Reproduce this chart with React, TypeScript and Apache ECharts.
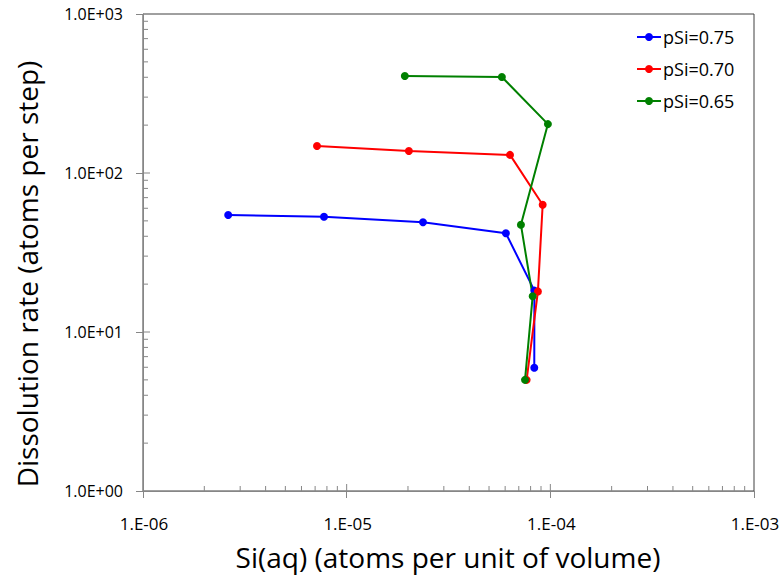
import React, { useEffect, useRef } from "react";
import * as echarts from "echarts";

const seriesNames = ["pSi=0.75", "pSi=0.70", "pSi=0.65"];
const seriesColors = ["#0000FF", "#FF0000", "#008000"];

const blueX = [2.62e-6, 7.74e-6, 2.37e-5, 6.05e-5, 8.35e-5, 8.34e-5];
const blueY = [54.4, 53.1, 49.0, 41.8, 18.2, 5.96];
const redX = [7.15e-6, 2.02e-5, 6.34e-5, 9.17e-5, 8.69e-5, 7.65e-5];
const redY = [148, 137.5, 130, 63.2, 18.0, 5.0];
const greenX = [1.93e-5, 5.78e-5, 9.73e-5, 7.17e-5, 8.19e-5, 7.51e-5];
const greenY = [407, 402, 203, 47.3, 16.8, 5.0];

const xTickValues = [1e-6, 1e-5, 1e-4, 1e-3];
const xTickLabels = ["1.E-06", "1.E-05", "1.E-04", "1.E-03"];
const yTickValues = [1, 10, 100, 1000];
const yTickLabels = ["1.0E+00", "1.0E+01", "1.0E+02", "1.0E+03"];

const xDecades = [1e-6, 1e-5, 1e-4];
const yDecades = [1, 10, 100];
const minorMultipliers = [2, 3, 4, 5, 6, 7, 8, 9];
const xMajorInner = [1e-5, 1e-4];
const yMajorInner = [10, 100];

const xMin = 1e-6, xMax = 1e-3, yMin = 1, yMax = 1000;

const FONT = "Open Sans";
const AXIS_COLOR = "#868686";

export default function App() {
  const ref = useRef<HTMLDivElement>(null);
  useEffect(() => {
    if (!ref.current) return;
    const chart = echarts.init(ref.current, undefined, { renderer: "svg" });

    const pairs = (xs: number[], ys: number[]) => xs.map((x, i) => [x, ys[i]]);
    const xTickData: number[][] = [];
    xDecades.forEach((d) => minorMultipliers.forEach((m) => xTickData.push([d * m, yMin, 5])));
    xMajorInner.forEach((v) => xTickData.push([v, yMin, 7]));
    const yTickData: number[][] = [];
    yDecades.forEach((d) => minorMultipliers.forEach((m) => yTickData.push([xMin, d * m, 5])));
    yMajorInner.forEach((v) => yTickData.push([xMin, v, 7]));

    const lineSeries = [
      [blueX, blueY],
      [redX, redY],
      [greenX, greenY],
    ].map(([xs, ys], i) => ({
      type: "line",
      name: seriesNames[i],
      data: pairs(xs, ys),
      symbol: "circle",
      symbolSize: 8,
      lineStyle: { color: seriesColors[i], width: 2 },
      itemStyle: { color: seriesColors[i] },
      z: 3,
    }));

    chart.setOption({
      animation: false,
      backgroundColor: "#fff",
      grid: {
        left: 143,
        right: 28,
        top: 14,
        bottom: 84,
        show: true,
        borderColor: "#404040",
        borderWidth: 1,
      },
      legend: {
        data: seriesNames,
        orient: "vertical",
        left: 636,
        top: 27,
        padding: 0,
        itemWidth: 24,
        itemHeight: 10,
        itemGap: 12,
        textStyle: { fontFamily: FONT, fontSize: 18, color: "#000", lineHeight: 20, padding: [0, 0, 0, -3] },
      },
      xAxis: {
        type: "log",
        min: xMin,
        max: xMax,
        logBase: 10,
        axisLine: { show: true, lineStyle: { color: AXIS_COLOR, width: 1 } },
        axisTick: { show: true, inside: false, length: 7, lineStyle: { color: AXIS_COLOR } },
        splitLine: { show: false },
        axisLabel: { show: false },
      },
      yAxis: {
        type: "log",
        min: yMin,
        max: yMax,
        logBase: 10,
        axisLine: { show: true, lineStyle: { color: AXIS_COLOR, width: 1 } },
        axisTick: { show: true, inside: false, length: 7, lineStyle: { color: AXIS_COLOR } },
        splitLine: { show: false },
        axisLabel: { show: false },
      },
      graphic: [
        {
          type: "text",
          x: 448,
          y: 557,
          style: {
            text: "Si(aq) (atoms per unit of volume)",
            fontFamily: FONT,
            fontSize: 28,
            fill: "#000",
            textAlign: "center",
            textVerticalAlign: "middle",
          },
        },
        {
          type: "text",
          x: 27,
          y: 274,
          rotation: Math.PI / 2,
          style: {
            text: "Dissolution rate (atoms per step)",
            fontFamily: FONT,
            fontSize: 28,
            fill: "#000",
            textAlign: "center",
            textVerticalAlign: "middle",
          },
        },
      ],
      series: [
        ...lineSeries,
        {
          type: "custom",
          name: "xticks",
          silent: true,
          data: xTickData,
          encode: { x: 0, y: 1 },
          renderItem: (params: any, api: any) => {
            const p = api.coord([api.value(0), api.value(1)]);
            const len = api.value(2);
            return {
              type: "line",
              shape: { x1: p[0], y1: p[1], x2: p[0], y2: p[1] - len },
              style: { stroke: AXIS_COLOR, lineWidth: 1 },
            };
          },
          z: 1,
        },
        {
          type: "custom",
          name: "yticks",
          silent: true,
          data: yTickData,
          encode: { x: 0, y: 1 },
          renderItem: (params: any, api: any) => {
            const p = api.coord([api.value(0), api.value(1)]);
            const len = api.value(2);
            return {
              type: "line",
              shape: { x1: p[0], y1: p[1], x2: p[0] + len, y2: p[1] },
              style: { stroke: AXIS_COLOR, lineWidth: 1 },
            };
          },
          z: 1,
        },
        {
          type: "custom",
          name: "xlabels",
          silent: true,
          clip: false,
          data: xTickValues.map((v, i) => [v, yMin, i]),
          encode: { x: 0, y: 1 },
          renderItem: (params: any, api: any) => {
            const p = api.coord([api.value(0), api.value(1)]);
            const i = api.value(2);
            return {
              type: "text",
              x: p[0] + 1,
              y: p[1] + 32,
              style: {
                text: xTickLabels[i],
                fontFamily: FONT,
                fontSize: 17,
                fill: "#000",
                align: "center",
                verticalAlign: "middle",
              },
            };
          },
        },
        {
          type: "custom",
          name: "ylabels",
          silent: true,
          clip: false,
          data: yTickValues.map((v, i) => [xMin, v, i]),
          encode: { x: 0, y: 1 },
          renderItem: (params: any, api: any) => {
            const p = api.coord([api.value(0), api.value(1)]);
            const i = api.value(2);
            return {
              type: "text",
              x: p[0] - 20,
              y: p[1],
              style: {
                text: yTickLabels[i],
                fontFamily: FONT,
                fontSize: 16,
                fill: "#000",
                align: "right",
                verticalAlign: "middle",
              },
            };
          },
        },
      ],
    });
    return () => chart.dispose();
  }, []);
  return <div ref={ref} style={{ width: 782, height: 575, position: "absolute", left: 0, top: 0 }} />;
}
